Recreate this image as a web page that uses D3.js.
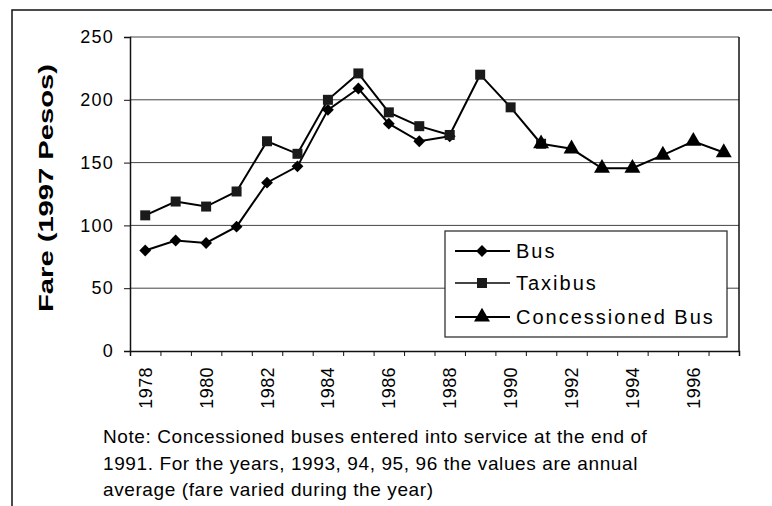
<!DOCTYPE html>
<html>
<head>
<meta charset="utf-8">
<script src="https://cdn.jsdelivr.net/npm/d3@7"></script>
<style>
  body { margin: 0; background: #fff; }
  svg { display: block; font-family: "Liberation Sans", Arial, sans-serif; }
</style>
</head>
<body>
<div class="container"></div>
<script>
// chart data
var years = [1978, 1979, 1980, 1981, 1982, 1983, 1984, 1985, 1986, 1987,
             1988, 1989, 1990, 1991, 1992, 1993, 1994, 1995, 1996, 1997];
var busFare = [80, 88, 86, 99, 134, 147, 192, 209, 181, 167,
               171, null, null, null, null, null, null, null, null, null];
var taxibusFare = [108, 119, 115, 127, 167, 157, 200, 221, 190, 179,
                   172, 220, 194, 165, null, null, null, null, null, null];
var concessionedFare = [null, null, null, null, null, null, null, null, null, null,
                        null, null, null, 165, 161, 145.5, 145.5, 156, 167, 158];
var yTicks = [0, 50, 100, 150, 200, 250];
var seriesNames = ["Bus", "Taxibus", "Concessioned Bus"];
var noteLines = [
  "Note: Concessioned buses entered into service at the end of",
  "1991. For the years, 1993, 94, 95, 96 the values are annual",
  "average (fare varied during the year)"
];

const WIDTH = 772;
const HEIGHT = 506;
const PLOT = { left: 130, right: 739, top: 37, bottom: 351 };

var translate = function (x, y) {
  return "translate(" + x + "," + y + ")";
};

var svg = d3.select(".container").append("svg")
    .attr("width", WIDTH)
    .attr("height", HEIGHT);

// outer frame (runs off the right and bottom of the picture)
svg.append("rect")
    .attr("x", 12).attr("y", 10)
    .attr("width", 900).attr("height", 700)
    .attr("fill", "none")
    .attr("stroke", "#111")
    .attr("stroke-width", 1.5);

var xScale = d3.scaleBand()
    .domain(years)
    .range([PLOT.left, PLOT.right]);

var yScale = d3.scaleLinear()
    .domain([0, 250])
    .range([PLOT.bottom, PLOT.top]);

var cx = function (i) { return xScale(years[i]) + xScale.bandwidth() / 2; };

// gridlines
svg.append("g").selectAll("line")
    .data(yTicks.filter(function (d) { return d > 0; }))
  .enter().append("line")
    .attr("x1", PLOT.left).attr("x2", PLOT.right)
    .attr("y1", function (d) { return yScale(d); })
    .attr("y2", function (d) { return yScale(d); })
    .attr("stroke", "#444")
    .attr("stroke-width", 1);

// right border of plot area
svg.append("line")
    .attr("x1", PLOT.right).attr("x2", PLOT.right)
    .attr("y1", PLOT.top).attr("y2", PLOT.bottom)
    .attr("stroke", "#111").attr("stroke-width", 1.5);

// y axis
var yAxis = d3.axisLeft(yScale).tickValues(yTicks).tickSize(6).tickPadding(10);
var gy = svg.append("g")
    .attr("transform", translate(PLOT.left, 0))
    .call(yAxis);
gy.select(".domain").attr("stroke", "#111").attr("stroke-width", 1.5);
gy.selectAll(".tick line").attr("stroke", "#111");
gy.selectAll("text")
    .attr("font-size", 18)
    .attr("letter-spacing", 1.2)
    .attr("fill", "#000")
    .attr("font-family", "Liberation Sans, Arial, sans-serif");

// x axis: ticks on band edges, labels every other year at band centres
var edgeScale = d3.scaleLinear()
    .domain([0, years.length])
    .range([PLOT.left, PLOT.right]);
var xAxis = d3.axisBottom(edgeScale).ticks(years.length).tickSize(5).tickFormat("");
var gx = svg.append("g")
    .attr("transform", translate(0, PLOT.bottom))
    .call(xAxis);
gx.select(".domain").attr("stroke", "#111").attr("stroke-width", 1.5);
gx.selectAll(".tick line").attr("stroke", "#111");

svg.append("g").selectAll("text")
    .data(years.filter(function (d, i) { return i % 2 === 0; }))
  .enter().append("text")
    .attr("transform", function (d) {
      return translate(xScale(d) + xScale.bandwidth() / 2, 367) + " rotate(-90)";
    })
    .attr("text-anchor", "end")
    .attr("dy", "0.36em")
    .attr("font-size", 18)
    .attr("letter-spacing", 0.4)
    .text(function (d) { return d; });

// axis title
svg.append("text")
    .attr("transform", translate(45, 188) + " rotate(-90)")
    .attr("text-anchor", "middle")
    .attr("dy", "0.36em")
    .attr("font-size", 21)
    .attr("font-weight", "bold")
    .attr("textLength", 248)
    .attr("lengthAdjust", "spacingAndGlyphs")
    .text("Fare (1997 Pesos)");

// lines
var line = d3.line()
    .defined(function (d) { return d != null; })
    .x(function (d, i) { return cx(i); })
    .y(function (d) { return yScale(d); });

var allSeries = [busFare, taxibusFare, concessionedFare];
var symbols = [d3.symbolSquare, d3.symbolSquare, d3.symbolTriangle];
var symbolSizes = [70, 100, 110];
var symbolRotate = [45, 0, 0];
var symbolFill = ["#000", "#1a1a1a", "#000"];

var marker = function (s) {
  return d3.symbol().type(symbols[s]).size(symbolSizes[s])();
};

allSeries.forEach(function (series, s) {
  svg.append("path")
      .datum(series)
      .attr("d", line)
      .attr("fill", "none")
      .attr("stroke", "#000")
      .attr("stroke-width", 2);

  svg.append("g").selectAll("path")
      .data(series.map(function (v, i) { return { v: v, i: i }; })
                  .filter(function (d) { return d.v != null; }))
    .enter().append("path")
      .attr("transform", function (d) {
        return translate(cx(d.i), yScale(d.v)) + " rotate(" + symbolRotate[s] + ")";
      })
      .attr("d", marker(s))
      .attr("fill", symbolFill[s]);
});

// legend
var legend = svg.append("g").attr("transform", translate(445, 231));
legend.append("rect")
    .attr("width", 282).attr("height", 106)
    .attr("fill", "#fff")
    .attr("stroke", "#222")
    .attr("stroke-width", 1.2);

var rowY = [20, 52, 86];
seriesNames.forEach(function (name, s) {
  var row = legend.append("g").attr("transform", translate(0, rowY[s]));
  row.append("line")
      .attr("x1", 10).attr("x2", 65)
      .attr("stroke", s === 1 ? "#444" : "#000")
      .attr("stroke-width", 2);
  row.append("path")
      .attr("transform", translate(37, 0) + " rotate(" + symbolRotate[s] + ")")
      .attr("d", marker(s))
      .attr("fill", symbolFill[s]);
  row.append("text")
      .attr("x", 71)
      .attr("dy", "0.36em")
      .attr("font-size", 20)
      .attr("letter-spacing", 2)
      .text(name);
});

// note below the chart
svg.append("g").selectAll("text")
    .data(noteLines)
  .enter().append("text")
    .attr("x", 103)
    .attr("y", function (d, i) { return 443 + i * 26.5; })
    .attr("font-size", 19)
    .attr("letter-spacing", 0.6)
    .text(function (d) { return d; });
</script>
</body>
</html>
